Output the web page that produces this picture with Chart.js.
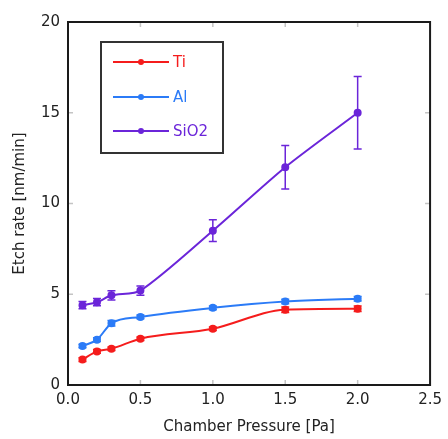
<!DOCTYPE html>
<html>
<head>
<meta charset="utf-8">
<script src="https://cdn.jsdelivr.net/npm/chart.js@4"></script>
<style>
  html, body { margin: 0; padding: 0; background: #fff; }
  #wrap { width: 448px; height: 439px; }
</style>
</head>
<body>
<div id="wrap"><canvas id="chart"></canvas></div>
<script>
// Datos
const pressure = [0.1, 0.2, 0.3, 0.5, 1.0, 1.5, 2.0];
const ti = [1.4, 1.85, 2.0, 2.55, 3.1, 4.15, 4.2];
const tiErr = [0.1, 0.1, 0.1, 0.1, 0.1, 0.15, 0.15];
const al = [2.15, 2.5, 3.4, 3.75, 4.25, 4.6, 4.75];
const alErr = [0.1, 0.1, 0.15, 0.1, 0.1, 0.12, 0.12];
const sio2 = [4.4, 4.56, 4.94, 5.2, 8.5, 12.0, 15.0];
const sio2Err = [0.2, 0.2, 0.25, 0.25, 0.6, 1.2, 2.0];
const seriesNames = ['Ti', 'Al', 'SiO2'];
const xTicks = [0, 0.5, 1.0, 1.5, 2.0, 2.5];
const yTicks = [0, 5, 10, 15, 20];

const colores = ['#f51c1c', '#2b7bf7', '#6b25d9'];
const FONT = "'DejaVu Sans', Verdana, sans-serif";

function serie(label, vals, errs, color, suave) {
  const ds = {
    label: label,
    data: pressure.map((p, i) => ({ x: p, y: vals[i] })),
    errors: errs,
    borderColor: color,
    backgroundColor: color,
    borderWidth: 2,
    pointRadius: 3,
    pointHoverRadius: 3
  };
  if (suave) ds.tension = suave;
  else ds.cubicInterpolationMode = 'monotone';
  return ds;
}

// barras de error
const errorBars = {
  id: 'errorBars',
  afterDatasetsDraw(chart) {
    const ctx = chart.ctx, xs = chart.scales.x, ys = chart.scales.y;
    chart.data.datasets.forEach(ds => {
      ctx.save();
      ctx.strokeStyle = ds.borderColor;
      ctx.lineWidth = 1.5;
      ds.data.forEach((pt, i) => {
        const e = ds.errors[i];
        const px = xs.getPixelForValue(pt.x);
        const y1 = ys.getPixelForValue(pt.y + e);
        const y2 = ys.getPixelForValue(pt.y - e);
        ctx.beginPath();
        ctx.moveTo(px, y1); ctx.lineTo(px, y2);
        ctx.moveTo(px - 4, y1); ctx.lineTo(px + 4, y1);
        ctx.moveTo(px - 4, y2); ctx.lineTo(px + 4, y2);
        ctx.stroke();
      });
      ctx.restore();
    });
  }
};

// marco y marcas hacia dentro
const frame = {
  id: 'frame',
  afterDraw(chart) {
    const ctx = chart.ctx, a = chart.chartArea, xs = chart.scales.x, ys = chart.scales.y;
    ctx.save();
    ctx.strokeStyle = '#c4c4c4';
    ctx.lineWidth = 1.5;
    const len = 5;
    xTicks.slice(1, -1).forEach(v => {
      const px = xs.getPixelForValue(v);
      ctx.beginPath();
      ctx.moveTo(px, a.bottom); ctx.lineTo(px, a.bottom - len);
      ctx.moveTo(px, a.top); ctx.lineTo(px, a.top + len);
      ctx.stroke();
    });
    yTicks.slice(1, -1).forEach(v => {
      const py = ys.getPixelForValue(v);
      ctx.beginPath();
      ctx.moveTo(a.left, py); ctx.lineTo(a.left + len, py);
      ctx.moveTo(a.right, py); ctx.lineTo(a.right - len, py);
      ctx.stroke();
    });
    ctx.strokeStyle = '#1a1a1a';
    ctx.lineWidth = 2;
    ctx.strokeRect(a.left, a.top, a.right - a.left, a.bottom - a.top);
    ctx.restore();
  }
};

// leyenda dentro del area
const legendBox = {
  id: 'legendBox',
  afterDraw(chart) {
    const ctx = chart.ctx, a = chart.chartArea;
    const bx = a.left + 33, by = a.top + 20, bw = 122, bh = 111;
    ctx.save();
    ctx.fillStyle = '#fff';
    ctx.fillRect(bx, by, bw, bh);
    ctx.strokeStyle = '#333';
    ctx.lineWidth = 2;
    ctx.strokeRect(bx, by, bw, bh);
    ctx.font = '15px ' + FONT;
    ctx.textBaseline = 'middle';
    const offs = [20, 55, 89];
    chart.data.datasets.forEach((ds, i) => {
      const y = by + offs[i];
      ctx.strokeStyle = ds.borderColor;
      ctx.fillStyle = ds.borderColor;
      ctx.lineWidth = 2;
      ctx.beginPath();
      ctx.moveTo(bx + 12, y); ctx.lineTo(bx + 68, y);
      ctx.stroke();
      ctx.beginPath();
      ctx.arc(bx + 40, y, 3, 0, Math.PI * 2);
      ctx.fill();
      ctx.fillText(ds.label, bx + 72, y + 1);
    });
    ctx.restore();
  }
};

new Chart(document.getElementById('chart'), {
  type: 'line',
  data: {
    datasets: [
      serie(seriesNames[0], ti, tiErr, colores[0]),
      serie(seriesNames[1], al, alErr, colores[1]),
      serie(seriesNames[2], sio2, sio2Err, colores[2], 0.25)
    ]
  },
  options: {
    responsive: true,
    maintainAspectRatio: false,
    animation: false,
    layout: { padding: { top: 22, right: 15, left: 0, bottom: 0 } },
    plugins: { legend: { display: false }, tooltip: { enabled: false } },
    scales: {
      x: {
        type: 'linear', min: 0, max: 2.5,
        afterBuildTicks: s => { s.ticks = xTicks.map(v => ({ value: v })); },
        afterFit: s => { s.height = 54; },
        grid: { display: false, drawTicks: false },
        border: { display: false },
        ticks: {
          color: '#222', padding: 6, maxRotation: 0, autoSkip: false,
          font: { family: FONT, size: 15 },
          callback: v => Number(v).toFixed(1)
        },
        title: {
          display: true, text: 'Chamber Pressure [Pa]', color: '#222',
          font: { family: FONT, size: 15 }, padding: { top: 0, bottom: 3 }
        }
      },
      y: {
        type: 'linear', min: 0, max: 20,
        afterBuildTicks: s => { s.ticks = yTicks.map(v => ({ value: v })); },
        afterFit: s => { s.width = 68; },
        grid: { display: false, drawTicks: false },
        border: { display: false },
        ticks: {
          color: '#222', padding: 8,
          font: { family: FONT, size: 15 }
        },
        title: {
          display: true, text: 'Etch rate [nm/min]', color: '#222',
          font: { family: FONT, size: 15 }, padding: { top: 11, bottom: 0 }
        }
      }
    }
  },
  plugins: [errorBars, frame, legendBox]
});
</script>
</body>
</html>
